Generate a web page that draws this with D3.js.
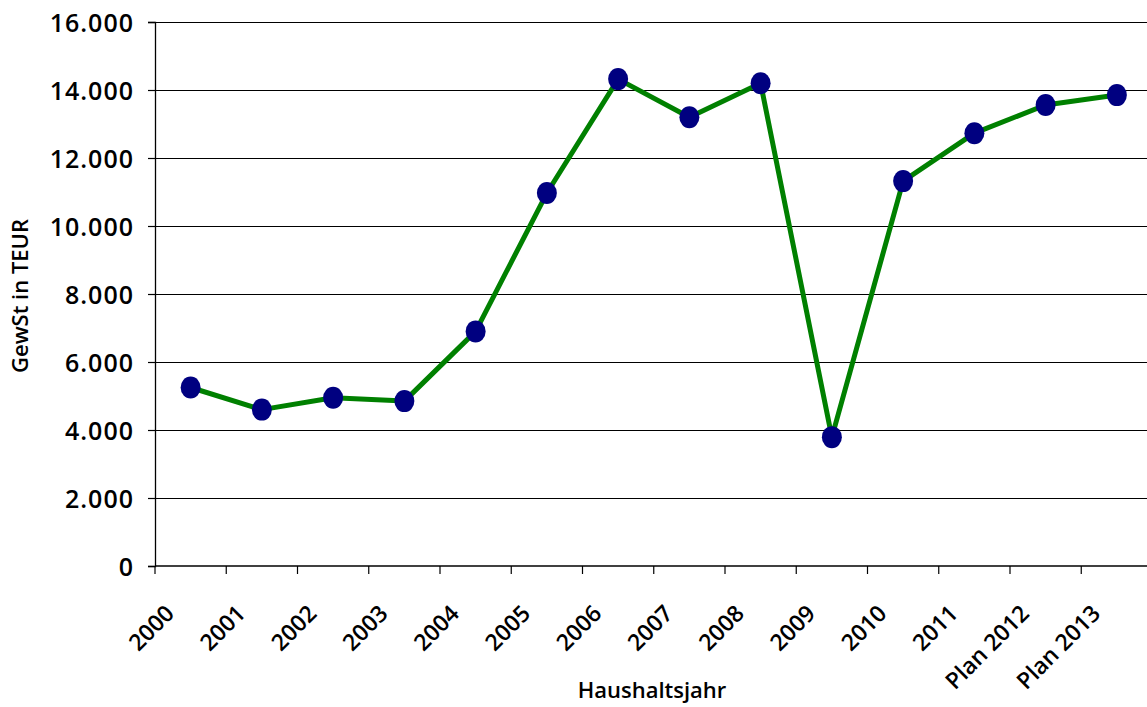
<!DOCTYPE html>
<html>
<head>
<meta charset="utf-8">
<script src="https://cdn.jsdelivr.net/npm/d3@7"></script>
<style>
  body { margin: 0; background: #fff; }
  svg { display: block; font-family: 'Open Sans', sans-serif; }
</style>
</head>
<body>
<div id="chart"></div>
<script>
// Gewerbesteuer per Haushaltsjahr (TEUR)
const years = ['2000', '2001', '2002', '2003', '2004', '2005', '2006', '2007',
  '2008', '2009', '2010', '2011', 'Plan 2012', 'Plan 2013'];
const gewst = [5250, 4600, 4950, 4850, 6900, 10970, 14320, 13200,
  14200, 3790, 11320, 12730, 13560, 13850];
const yTicks = [0, 2000, 4000, 6000, 8000, 10000, 12000, 14000, 16000];

const w = 1147;
const h = 707;
const plotLeft = 155;
const plotTop = 22;
const plotBottom = 566;

const svg = d3.select('#chart')
  .append('svg')
  .attr('width', w)
  .attr('height', h);

const x = d3.scaleBand()
  .domain(years)
  .range([plotLeft, plotLeft + 14 * 71.25]);

const y = d3.scaleLinear()
  .domain([0, 16000])
  .range([plotBottom, plotTop]);

const fmt = (v) => d3.format(',')(v).replace(/,/g, '.');

// y axis
const yAxis = svg.append('g')
  .attr('transform', `translate(${plotLeft},0)`)
  .call(d3.axisLeft(y).tickValues(yTicks).tickSize(7).tickFormat(fmt));
yAxis.select('.domain').attr('stroke', '#000').attr('stroke-width', 1.3);
yAxis.selectAll('.tick line').attr('stroke', '#000').attr('stroke-width', 1.2);
yAxis.selectAll('.tick text')
  .attr('x', -21)
  .attr('dy', '0.36em')
  .attr('font-size', 25)
  .attr('letter-spacing', 1)
  .attr('font-weight', 600)
  .attr('font-family', 'Open Sans, sans-serif')
  .attr('fill', '#000');

// gridlines
svg.append('g')
  .selectAll('line')
  .data(yTicks.slice(1))
  .enter()
  .append('line')
  .attr('x1', plotLeft)
  .attr('x2', w)
  .attr('y1', (d) => Math.round(y(d)) + 0.5)
  .attr('y2', (d) => Math.round(y(d)) + 0.5)
  .attr('stroke', '#000')
  .attr('stroke-width', 1.2);

// x axis with ticks at band boundaries
const xAxis = svg.append('g')
  .attr('transform', `translate(0,${plotBottom})`);
xAxis.append('line')
  .attr('x1', plotLeft)
  .attr('x2', w)
  .attr('stroke', '#000')
  .attr('stroke-width', 1.3);
xAxis.selectAll('.tk')
  .data(years)
  .enter()
  .append('line')
  .attr('class', 'tk')
  .attr('x1', (d) => x(d))
  .attr('x2', (d) => x(d))
  .attr('y1', 0)
  .attr('y2', 8)
  .attr('stroke', '#000')
  .attr('stroke-width', 1.2);
xAxis.selectAll('text')
  .data(years)
  .enter()
  .append('text')
  .attr('transform', (d) => `translate(${x(d) + x.bandwidth() / 2 - 15},${49}) rotate(-45)`)
  .attr('text-anchor', 'end')
  .attr('font-size', 23)
  .attr('font-weight', 600)
  .attr('fill', '#000')
  .text((d) => d);

// axis titles
svg.append('text')
  .attr('transform', 'translate(28,296) rotate(-90)')
  .attr('text-anchor', 'middle')
  .attr('font-size', 22)
  .attr('font-weight', 600)
  .text('GewSt in TEUR');

svg.append('text')
  .attr('x', 652)
  .attr('y', 698)
  .attr('text-anchor', 'middle')
  .attr('font-size', 22)
  .attr('font-weight', 600)
  .text('Haushaltsjahr');

// line + markers
const cx = (d, i) => x(years[i]) + x.bandwidth() / 2;
const line = d3.line()
  .x((d, i) => cx(d, i))
  .y((d) => y(d));

svg.append('path')
  .datum(gewst)
  .attr('d', line)
  .attr('fill', 'none')
  .attr('stroke', '#008000')
  .attr('stroke-width', 5)
  .attr('stroke-linejoin', 'round');

svg.selectAll('.pt')
  .data(gewst)
  .enter()
  .append('ellipse')
  .attr('class', 'pt')
  .attr('cx', cx)
  .attr('cy', (d) => y(d))
  .attr('rx', 10)
  .attr('ry', 11)
  .attr('fill', '#000080');
</script>
</body>
</html>
